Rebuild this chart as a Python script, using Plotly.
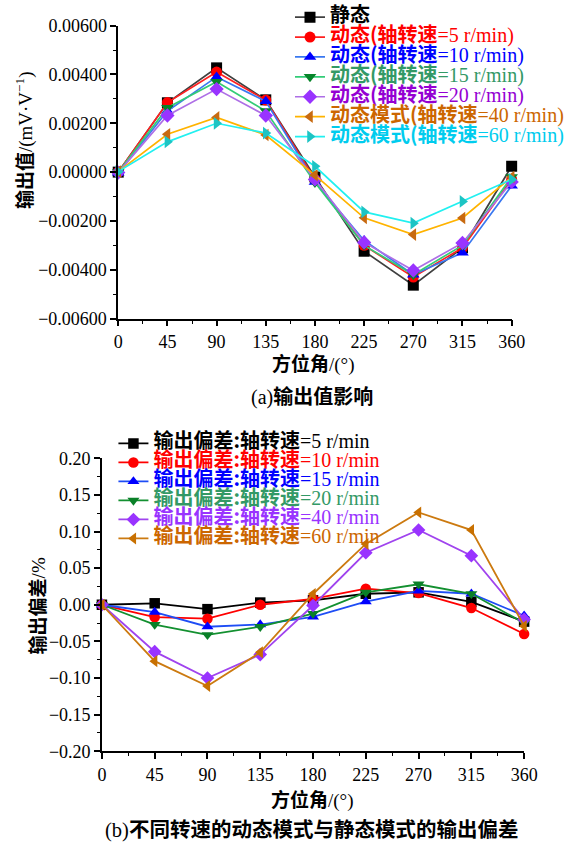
import plotly.graph_objects as go

# Azimuth angles (degrees)
angles = [0, 45, 90, 135, 180, 225, 270, 315, 360]

# (a) Output value, mV·V^-1
out_static = [0.0, 0.00284, 0.00427, 0.00296, -0.0002, -0.00324, -0.00463, -0.0031, 0.00024]
out_5 = [0.0, 0.00285, 0.0041, 0.00295, -0.0003, -0.0030, -0.0043, -0.0031, -0.0003]
out_10 = [-0.00003, 0.0025, 0.0039, 0.0029, -0.0004, -0.0028, -0.0042, -0.0033, -0.00056]
out_15 = [0.0, 0.00264, 0.0037, 0.0025, -0.00043, -0.0030, -0.0042, -0.0030, -0.0002]
out_20 = [-0.00002, 0.00232, 0.0034, 0.00232, -0.0003, -0.00288, -0.00403, -0.0029, -0.0004]
out_40 = [0.00002, 0.00155, 0.00224, 0.00152, -0.00012, -0.00187, -0.00256, -0.00188, -0.0002]
out_60 = [0.00002, 0.00124, 0.0020, 0.0016, 0.00024, -0.00163, -0.00209, -0.0012, -0.0003]

# (b) Output deviation, %
dev_5 = [0.0, 0.002, -0.006, 0.003, 0.006, 0.015, 0.017, 0.004, -0.023]
dev_10 = [0.0, -0.017, -0.019, 0.0, 0.008, 0.022, 0.016, -0.0045, -0.040]
dev_15 = [0.0, -0.010, -0.030, -0.027, -0.0165, 0.0044, 0.019, 0.015, -0.015]
dev_20 = [0.0, -0.027, -0.041, -0.030, -0.012, 0.017, 0.028, 0.015, -0.025]
dev_40 = [0.0, -0.064, -0.100, -0.068, -0.001, 0.071, 0.102, 0.067, -0.020]
dev_60 = [0.0, -0.077, -0.111, -0.065, 0.0147, 0.083, 0.126, 0.102, -0.029]

W, H = 569, 855
CJK = "Noto Sans CJK SC"
SERIF = "Liberation Serif"


def px_x(p):
    return p / W


def px_y(p):
    return 1 - p / H


def label(cjk, latin, color, size=20):
    s = (f'<span style="font-family:{CJK};font-weight:bold;font-size:{size}px;color:{color}">{cjk}</span>')
    if latin:
        s += f'<span style="font-family:{SERIF};font-size:{size}px;color:{color}">{latin}</span>'
    return s


top_series = [
    (out_static, "静态", "", "#000000", "#404040", "#000000", "square"),
    (out_5, "动态(轴转速", "=5 r/min)", "#FF0000", "#FF2020", "#FF0000", "circle"),
    (out_10, "动态(轴转速", "=10 r/min)", "#0000FF", "#3A78F0", "#0000FF", "triangle-up"),
    (out_15, "动态(轴转速", "=15 r/min)", "#339966", "#33CC77", "#07852A", "triangle-down"),
    (out_20, "动态(轴转速", "=20 r/min)", "#9400D3", "#AE6FE6", "#9933FF", "diamond"),
    (out_40, "动态模式(轴转速", "=40 r/min)", "#CC6600", "#FFB300", "#C86A10", "triangle-left"),
    (out_60, "动态模式(轴转速", "=60 r/min)", "#00CCEE", "#22F0F0", "#1CC4C4", "triangle-right"),
]

bottom_series = [
    (dev_5, "=5 r/min", "#000000", "#000000", "#000000", "square"),
    (dev_10, "=10 r/min", "#FF0000", "#FF0000", "#FF0000", "circle"),
    (dev_15, "=15 r/min", "#0000FF", "#1E4DF5", "#0000FF", "triangle-up"),
    (dev_20, "=20 r/min", "#339966", "#139030", "#0A8028", "triangle-down"),
    (dev_40, "=40 r/min", "#9933FF", "#A044EE", "#9933FF", "diamond"),
    (dev_60, "=60 r/min", "#CC6600", "#CC7A10", "#C87000", "triangle-left"),
]

fig = go.Figure()

for vals, cjk, latin, tcol, lcol, mcol, sym in top_series:
    fig.add_trace(go.Scatter(
        x=angles, y=vals, mode="lines+markers", name=label(cjk, latin, tcol),
        line=dict(color=lcol, width=1.7),
        marker=dict(color=mcol, symbol=sym, size=11, line=dict(width=0)),
        xaxis="x", yaxis="y", legend="legend", cliponaxis=False,
    ))

for vals, latin, tcol, lcol, mcol, sym in bottom_series:
    fig.add_trace(go.Scatter(
        x=angles, y=vals, mode="lines+markers", name=label("输出偏差:轴转速", latin, tcol),
        line=dict(color=lcol, width=1.8),
        marker=dict(color=mcol, symbol=sym, size=10.5, line=dict(width=0)),
        xaxis="x2", yaxis="y2", legend="legend2", cliponaxis=False,
    ))

axis_common = dict(
    showline=True, linecolor="black", linewidth=1.5, mirror=False,
    ticks="outside", ticklen=6, tickwidth=1.5, tickcolor="black",
    showgrid=False, zeroline=False,
    tickfont=dict(family=SERIF, size=18, color="black"),
)
minor_common = dict(ticks="outside", ticklen=3.5, tickwidth=1.2, tickcolor="black", showgrid=False)

fig.update_layout(
    width=W, height=H,
    margin=dict(l=0, r=0, t=0, b=0),
    paper_bgcolor="white", plot_bgcolor="white",
    font=dict(family=SERIF, size=18, color="black"),
    xaxis=dict(domain=[px_x(118), px_x(528)], range=[0, 360], anchor="y",
               tickmode="array", tickvals=angles, ticktext=[str(a) for a in angles],
               minor=dict(dtick=22.5, tick0=0, **minor_common), **axis_common),
    yaxis=dict(domain=[px_y(316), px_y(16)], range=[-0.006, 0.006], anchor="x",
               dtick=0.002, tick0=0, tickformat=".5f",
               minor=dict(dtick=0.001, tick0=0, **minor_common), **axis_common),
    xaxis2=dict(domain=[px_x(101), px_x(541)], range=[0, 360], anchor="y2",
                tickmode="array", tickvals=angles, ticktext=[str(a) for a in angles],
                minor=dict(dtick=22.5, tick0=0, **minor_common), **axis_common),
    yaxis2=dict(domain=[px_y(759), px_y(459)], range=[-0.2, 0.2], anchor="x2",
                dtick=0.05, tick0=0, tickformat=".2f",
                minor=dict(dtick=0.025, tick0=0, **minor_common), **axis_common),
    legend=dict(x=px_x(297), y=px_y(-8), xanchor="left", yanchor="top",
                bgcolor="rgba(0,0,0,0)", font=dict(family=SERIF, size=13),
                itemwidth=30, tracegroupgap=0),
    legend2=dict(x=px_x(113), y=px_y(429), xanchor="left", yanchor="top",
                 bgcolor="rgba(0,0,0,0)", font=dict(family=SERIF, size=12),
                 itemwidth=30, tracegroupgap=0),
    showlegend=True,
)

ann = []
# axis titles
ann.append(dict(x=px_x(20), y=px_y(133), xref="paper", yref="paper", textangle=-90,
                showarrow=False, xanchor="center", yanchor="middle",
                text=label("输出值", "/(mV·V<sup>−1</sup>)", "black", 19)))
ann.append(dict(x=px_x(322), y=px_y(361), xref="paper", yref="paper", showarrow=False,
                xanchor="center", yanchor="middle", text=label("方位角", "/(°)", "black", 19)))
ann.append(dict(x=px_x(33), y=px_y(610), xref="paper", yref="paper", textangle=-90,
                showarrow=False, xanchor="center", yanchor="middle",
                text=label("输出偏差", "/%", "black", 19)))
ann.append(dict(x=px_x(320), y=px_y(807), xref="paper", yref="paper", showarrow=False,
                xanchor="center", yanchor="middle", text=label("方位角", "/(°)", "black", 19)))
# captions
ann.append(dict(x=px_x(320), y=px_y(395), xref="paper", yref="paper", showarrow=False,
                xanchor="center", yanchor="middle",
                text=f'<span style="font-family:{SERIF};font-size:20px">(a)</span>'
                     f'<span style="font-family:{CJK};font-weight:bold;font-size:20px">输出值影响</span>'))
ann.append(dict(x=px_x(319), y=px_y(838), xref="paper", yref="paper", showarrow=False,
                xanchor="center", yanchor="middle",
                text=f'<span style="font-family:{SERIF};font-size:20.5px">(b)</span>'
                     f'<span style="font-family:{CJK};font-weight:bold;font-size:20.5px">不同转速的动态模式与静态模式的输出偏差</span>'))
fig.update_layout(annotations=ann)

fig.write_html("out.html")
